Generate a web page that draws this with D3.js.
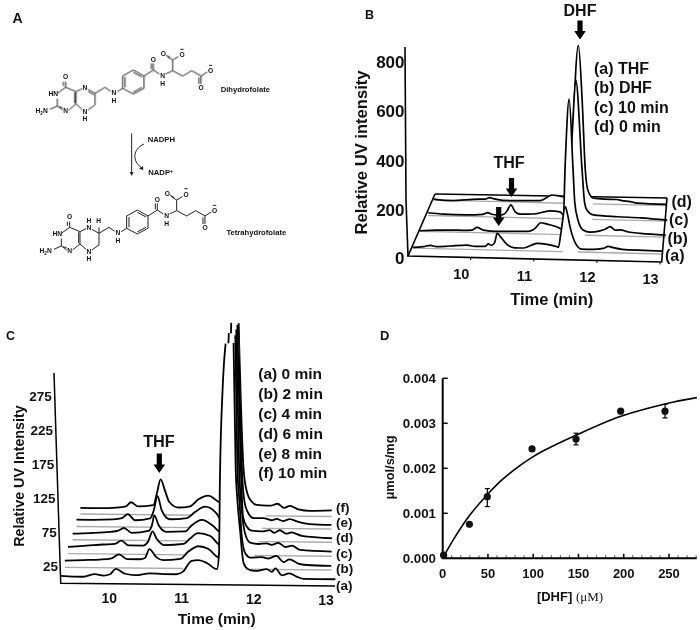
<!DOCTYPE html>
<html>
<head>
<meta charset="utf-8">
<script src="https://cdn.jsdelivr.net/npm/d3@7/dist/d3.min.js"></script>
<style>
html,body{margin:0;padding:0;background:#fff}
svg{display:block;filter:blur(0.3px)}
text{font-family:"Liberation Sans",Arial,sans-serif;font-weight:bold;fill:#111}
</style>
</head>
<body>
<svg id="fig" width="700" height="630"></svg>
<script>
// ---------- Panel B data: [time, relative UV] ----------
const bTicksX = [10, 11, 12, 13];
const bTicksY = [0, 200, 400, 600, 800];
const bNames = ["(a)", "(b)", "(c)", "(d)"];
const bLegend = ["(a) THF", "(b) DHF", "(c) 10 min", "(d) 0 min"];
const bA = [[9.0,3],[9.17,7],[9.28,13],[9.38,8],[9.59,12],[9.86,17],[9.99,13],[10.15,14],[10.2,24],[10.25,19],[10.3,30],[10.34,68],[10.39,55],[10.49,25],[10.62,11],[10.76,11],[10.89,24],[10.97,31],[11.13,28],[11.29,19],[11.31,17],[11.35,75],[11.42,182],[11.45,157],[11.5,96],[11.58,36],[11.68,12],[11.86,12],[12.02,17],[12.1,26],[12.18,21],[12.32,15],[12.66,13],[12.96,12]];
const bB = [[9.0,2],[9.27,6],[9.53,8],[9.69,8],[9.83,10],[9.91,21],[10.01,11],[10.22,7],[10.49,9],[10.72,10],[10.83,23],[10.92,46],[11.02,41],[11.23,25],[11.27,19],[11.31,302],[11.37,548],[11.43,274],[11.46,129],[11.51,61],[11.59,21],[11.7,13],[11.86,19],[11.94,26],[12.02,37],[12.1,23],[12.18,25],[12.31,17],[12.5,13],[12.9,8]];
const bC = [[9.04,11],[9.28,7],[9.65,6],[9.91,10],[9.98,17],[10.05,11],[10.18,8],[10.26,16],[10.3,30],[10.35,51],[10.42,23],[10.5,14],[10.71,16],[10.97,30],[11.13,27],[11.19,15],[11.32,329],[11.38,561],[11.48,198],[11.52,66],[11.56,35],[11.66,18],[12.04,13],[12.41,11],[12.83,4]];
const bD = [[9.01,7],[9.04,3],[9.33,0],[9.64,7],[9.83,9],[9.9,15],[9.99,10],[10.23,5],[10.57,7],[10.7,8],[10.79,18],[10.89,32],[11.02,28],[11.08,26],[11.15,13],[11.31,639],[11.37,419],[11.42,136],[11.46,56],[11.55,23],[11.73,20],[11.92,20],[12.0,16],[12.13,13],[12.24,7],[12.71,5]];
const bGaps = [[11.38,11.62],[11.27,11.62],[11.18,11.64],[11.07,11.54]];

// ---------- Panel C data: [time, relative UV]; null marks the clipped peak top ----------
const cTicksX = [10, 11, 12, 13];
const cTicksY = [25, 75, 125, 175, 225, 275];
const cNames = ["(a)", "(b)", "(c)", "(d)", "(e)", "(f)"];
const cLegend = ["(a) 0 min", "(b) 2 min", "(c) 4 min", "(d) 6 min", "(e) 8 min", "(f) 10 min"];
const cA = [[9.33,11],[9.64,10],[9.8,14],[9.92,12],[10.01,14],[10.09,22],[10.22,15],[10.36,13],[10.56,16],[10.75,15],[10.93,15],[11.02,19],[11.14,35],[11.23,36],[11.35,32],[11.49,23],[11.52,47],[11.53,144],[11.57,291],[11.61,355],[11.66,null],[11.72,356],[11.75,169],[11.77,130],[11.81,81],[11.86,32],[11.93,23],[12.02,21],[12.18,24],[12.25,20],[12.3,25],[12.39,15],[12.49,18],[12.6,13],[12.69,10],[13.13,10]];
const cB = [[9.33,10],[9.59,11],[9.82,12],[9.98,14],[10.08,20],[10.19,13],[10.37,13],[10.44,15],[10.5,28],[10.6,16],[10.69,12],[10.93,14],[11.04,25],[11.18,33],[11.32,29],[11.46,17],[11.51,24],[11.53,131],[11.58,278],[11.6,347],[11.65,null],[11.69,344],[11.72,146],[11.75,97],[11.78,48],[11.83,23],[11.9,17],[12.06,18],[12.15,16],[12.26,20],[12.36,11],[12.44,15],[12.56,9],[12.68,7],[13.02,6]];
const cC = [[9.32,10],[9.58,12],[9.81,14],[9.97,15],[10.06,20],[10.16,13],[10.36,13],[10.43,19],[10.49,34],[10.55,23],[10.66,14],[10.92,16],[11.01,24],[11.12,32],[11.29,28],[11.43,15],[11.48,22],[11.52,111],[11.55,228],[11.58,342],[11.62,null],[11.65,332],[11.69,126],[11.72,74],[11.77,33],[11.84,19],[11.96,17],[12.07,18],[12.14,16],[12.23,19],[12.33,13],[12.42,15],[12.53,9],[12.97,7]];
const cD = [[9.33,9],[9.57,10],[9.85,12],[9.96,14],[10.04,18],[10.15,11],[10.38,14],[10.43,23],[10.46,37],[10.52,23],[10.63,13],[10.89,14],[10.98,23],[11.12,31],[11.28,22],[11.37,14],[11.45,20],[11.5,105],[11.52,208],[11.54,267],[11.58,null],[11.61,318],[11.66,105],[11.69,36],[11.74,22],[11.81,16],[11.95,15],[12.06,17],[12.12,13],[12.2,17],[12.29,12],[12.36,14],[12.5,9],[12.92,6]];
const cE = [[9.33,10],[9.56,10],[9.84,11],[9.96,13],[10.04,19],[10.14,10],[10.35,13],[10.4,25],[10.45,46],[10.51,25],[10.62,12],[10.86,14],[10.97,23],[11.11,31],[11.27,21],[11.32,14],[11.43,19],[11.47,85],[11.49,188],[11.51,247],[11.54,null],[11.57,299],[11.62,85],[11.66,36],[11.71,22],[11.78,15],[11.92,15],[12.03,12],[12.1,14],[12.19,11],[12.28,14],[12.4,10],[12.56,7],[12.86,6]];
const cF = [[9.33,9],[9.6,9],[9.83,10],[9.96,12],[10.03,18],[10.13,12],[10.34,14],[10.39,32],[10.44,52],[10.5,36],[10.56,19],[10.69,11],[10.85,13],[10.96,23],[11.1,29],[11.24,20],[11.33,15],[11.4,67],[11.44,170],[11.47,229],[11.49,null],[11.52,283],[11.59,67],[11.64,33],[11.7,21],[11.77,16],[11.96,15],[12.06,18],[12.15,12],[12.23,15],[12.35,10],[12.51,8],[12.81,9]];
const cGap = [10.97, 11.9];

// ---------- Panel D data ----------
const dConc = [1, 29.5, 49.3, 98.7, 147.3, 196.6, 245.6];
const dRate = [0.00007, 0.000755, 0.00137, 0.00243, 0.00265, 0.00327, 0.00327];
const dErrLo = [null, null, 0.00115, null, 0.00252, null, 0.00312];
const dErrHi = [null, null, 0.00155, null, 0.00278, null, 0.00342];
const dFitX = [0, 12, 30, 50, 67, 100, 148, 196, 245.6, 280.7];
const dFitY = [0, 0.00042, 0.00096, 0.00143, 0.00177, 0.00226, 0.00274, 0.00315, 0.00343, 0.00357];
const dTicksX = [0, 50, 100, 150, 200, 250];
const dTicksY = [0, 0.001, 0.002, 0.003, 0.004];

// ---------- Panel A structure (drawn in a 3x working space) ----------
const aRingSkeleton = [
  [197,245,197,262],[197,262,172,280],[172,296,172,318],[172,318,188,330],[206,330,228,312],[228,312,228,275],[228,275,197,262],[150,328,172,318],
  [228,275,246,266],[228,312,246,328],[264,330,285,315],[285,315,285,280],
  [285,280,315,262],[315,262,332,274],
  [352,275,368,265],[368,265,368,228],[368,228,400,210],[400,210,432,228],[432,228,432,265],[432,265,400,282],[400,282,368,265],
  [432,228,460,210],[460,210,460,190],[460,210,478,222],[497,222,518,212],[518,212,518,180],[518,180,502,170],[518,180,535,170],
  [518,212,548,228],[548,228,575,212],[575,212,603,228],[603,228,622,216],[603,228,603,252]];
const aDoubleBonds = [[190,245,190,258],[224,310,224,277],[375,262,375,231],[400,217,426,231],[426,262,400,276],[454,190,454,208],[511,173,498,165],[597,232,597,252],[178,320,188,324]];
const aDihydroOnly = [[264,268,285,280],[264,274,281,284]];
const aDihydroLabels = [["O",197,237],["HN",160,287],["N",197,340],["N",255,271],["N",255,341],["H",255,364],["N",342,285],["H",342,308],["O",460,185],["N",488,234],["H",488,257],["O",490,169],["O",546,171],["O",632,219],["O",603,269]];
const aTetraExtra = [[264,268,285,280],[285,280,285,262]];
const aTetraLabels = [["O",209,657],["HN",172,707],["N",209,760],["N",267,691],["H",267,668],["H",296,670],["N",267,761],["H",267,784],["N",354,705],["H",354,728],["O",472,605],["N",500,654],["H",500,677],["O",502,589],["O",558,591],["O",644,639],["O",615,689]];

const svg = d3.select("#fig");
const tilted = (g, txt, x, y, size, anchor) =>
  g.append("text").attr("x", x).attr("y", y).attr("font-size", size).attr("text-anchor", anchor || "start").text(txt);
const rotText = (g, txt, x, y, size) =>
  g.append("text").attr("transform", `translate(${x},${y}) rotate(-90)`).attr("font-size", size).attr("text-anchor", "middle").text(txt);
function arrow(g, x, y0, y1) {
  const h = 8.5, sw = 2.6, hw = 5.8;
  g.append("path").attr("fill", "#000").attr("d",
    d3.line()([[x-sw,y0],[x+sw,y0],[x+sw,y1-h],[x+hw,y1-h],[x,y1],[x-hw,y1-h],[x-sw,y1-h]]) + "Z");
}

// ---------- Panel labels ----------
tilted(svg, "A", 12.5, 23, 14);
tilted(svg, "B", 365, 19, 12.5);
tilted(svg, "C", 6, 339.5, 12.5);
tilted(svg, "D", 380, 340, 13);

// ---------- Panel A ----------
const gA = svg.append("g").attr("transform", "scale(0.3333)").style("filter", "blur(1px)");
const bonds = (list, dx, dy) => gA.append("g").attr("transform", `translate(${dx},${dy})`)
  .selectAll("line").data(list).join("line")
  .attr("x1", d => d[0]).attr("y1", d => d[1]).attr("x2", d => d[2]).attr("y2", d => d[3])
  .attr("stroke", "#222").attr("stroke-width", 3);
const atoms = list => gA.append("g").selectAll("text").data(list).join("text")
  .attr("x", d => d[1]).attr("y", d => d[2]).attr("text-anchor", "middle").attr("font-size", 20).text(d => d[0]);
bonds(aRingSkeleton, 0, 0); bonds(aDoubleBonds, 0, 0); bonds(aDihydroOnly, 0, 0);
bonds(aRingSkeleton, 12, 420); bonds(aDoubleBonds, 12, 420); bonds(aTetraExtra, 12, 420);
atoms(aDihydroLabels); atoms(aTetraLabels);
[[546,148],[632,196],[558,566],[644,616]].forEach(p =>
  gA.append("line").attr("x1", p[0]-5).attr("x2", p[0]+5).attr("y1", p[1]).attr("y2", p[1]).attr("stroke", "#222").attr("stroke-width", 3));
const h2n = (x, y) => { const t = gA.append("text").attr("x", x).attr("y", y).attr("text-anchor", "middle").attr("font-size", 20);
  t.append("tspan").text("H"); t.append("tspan").attr("font-size", 14).attr("dy", 5).text("2"); t.append("tspan").attr("dy", -5).text("N"); };
h2n(125, 340); h2n(137, 760);
const aLab = (s, x, y, anchor) => gA.append("text").attr("x", x).attr("y", y).attr("font-size", 23).attr("text-anchor", anchor).text(s);
aLab("Dihydrofolate", 736, 276, "middle");
aLab("Tetrahydrofolate", 769, 706, "middle");
aLab("NADPH", 484, 426, "middle");
const nadp = aLab("NADP", 445, 526, "start");
nadp.append("tspan").attr("font-size", 16).attr("dy", -8).text("+");
gA.append("line").attr("x1", 395).attr("x2", 395).attr("y1", 400).attr("y2", 522).attr("stroke", "#222").attr("stroke-width", 3);
gA.append("path").attr("d", "M389,516 L401,516 L395,528 Z").attr("fill", "#222");
gA.append("path").attr("d", "M432,432 C398,448 396,482 424,503").attr("fill", "none").attr("stroke", "#222").attr("stroke-width", 3);
gA.append("path").attr("d", "M417,506 L429,498 L430,510 Z").attr("fill", "#222");

// ---------- Stacked chromatogram helper ----------
function stacked(g, cfg) {
  const order = d3.range(cfg.series.length).reverse();
  order.forEach(k => {
    const data = cfg.series[k];
    const solid = data.filter(d => d[1] != null);
    const px = d => cfg.x(d[0]) + cfg.dx[k];
    const base = d => cfg.y(0) + cfg.dy[k] + cfg.tilt * (px(d) - cfg.x0);
    const py = d => cfg.y(d[1]) + cfg.dy[k] + cfg.tilt * (px(d) - cfg.x0);
    g.append("path").attr("fill", "#fff").attr("d",
      d3.area().x(px).y0(base).y1(py).curve(d3.curveMonotoneX)(solid));
    if (cfg.gaps[k]) {
      const t0 = data[0][0], t1 = data[data.length - 1][0];
      [[t0, cfg.gaps[k][0]], [cfg.gaps[k][1], t1]].forEach(r => {
        g.append("line")
          .attr("x1", px([r[0]])).attr("x2", px([r[1]]))
          .attr("y1", base([r[0]])).attr("y2", base([r[1]]))
          .attr("stroke", "#aaa").attr("stroke-width", 1.4);
      });
    }
    g.append("path").attr("fill", "none").attr("stroke", "#000").attr("stroke-width", cfg.sw)
      .attr("stroke-linejoin", "round")
      .attr("d", d3.line().defined(d => d[1] != null).x(px).y(py).curve(d3.curveMonotoneX)(data));
  });
}

// ---------- Panel B ----------
const gB = svg.append("g");
const xB = d3.scaleLinear().domain([10, 13]).range([470.7, 660]);
const yB = d3.scaleLinear().domain([0, 800]).range([256, 58]);
gB.append("line").attr("x1", 435).attr("y1", 194).attr("x2", 667).attr("y2", 198).attr("stroke", "#000").attr("stroke-width", 1.6);
stacked(gB, { series: [bA, bB, bC, bD], x: xB, y: yB, dx: [5, 12, 18, 25], dy: [-8, -25, -41, -56.5], tilt: 0.0237, x0: 408, gaps: bGaps, sw: 1.7 });
gB.append("path").attr("fill", "none").attr("stroke", "#000").attr("stroke-width", 1.6)
  .attr("d", d3.line()([[435, 194], [408, 256], [661.7, 262], [667, 198]]));
gB.append("path").attr("fill", "none").attr("stroke", "#000").attr("stroke-width", 1.6)
  .attr("d", d3.line()([[405, 47], [406, 200], [408, 256]]));
bTicksX.forEach(t => {
  const X = xB(t), Y = 256 + 0.0237 * (X - 408);
  gB.append("line").attr("x1", X).attr("x2", X).attr("y1", Y).attr("y2", Y + 2.5).attr("stroke", "#000").attr("stroke-width", 1);
  tilted(gB, t, X - 9.5, Y + 22, 14.5, "middle");
});
bTicksY.forEach(v => tilted(gB, v, 404.5, yB(v) + 9.5 + (v ? 0 : -2), 17, "end"));
rotText(gB, "Relative UV intensity", 367, 152.5, 16.6);
tilted(gB, "Time (min)", 551.7, 305, 16.5, "middle");
tilted(gB, "DHF", 580, 16, 16, "middle");
tilted(gB, "THF", 509, 168, 16, "middle");
arrow(gB, 580, 20.5, 39.5);
arrow(gB, 511.5, 178, 197);
arrow(gB, 498.7, 207, 226);
const bLegY = [74, 93, 113, 132];
bLegend.forEach((s, i) => tilted(gB, s, 594, bLegY[i], 16));
const bEnd = [[665, 260.5], [667.5, 243.5], [669, 225], [671.5, 207]];
bNames.forEach((s, i) => tilted(gB, s, bEnd[i][0], bEnd[i][1], 16));

// ---------- Panel C ----------
const gC = svg.append("g");
const xC = d3.scaleLinear().domain([10, 13]).range([109.3, 326]);
const yC = d3.scaleLinear().domain([0, 275]).range([583.3, 396.3]);
stacked(gC, { series: [cA, cB, cC, cD, cE, cF], x: xC, y: yC, dx: [0, 3.9, 7.8, 11.7, 15.6, 19.5], dy: [0, -16, -29.7, -43.7, -57, -69.5], tilt: 0.01, x0: 60.7,
  gaps: [null, cGap, cGap, cGap, cGap, cGap], sw: 1.8 });
gC.append("path").attr("fill", "none").attr("stroke", "#000").attr("stroke-width", 1.5)
  .attr("d", d3.line()([[54, 373], [60.7, 583.3], [335, 586]]));
cTicksX.forEach(t => tilted(gC, t, xC(t), 602.7 + (t - 10) * 0.7, 14, "middle"));
const cLabEnd = d3.scaleLinear().domain([25, 275]).range([58, 51.7]);
cTicksY.forEach(v => tilted(gC, v, cLabEnd(v), yC(v) + 5, 13.5, "end"));
rotText(gC, "Relative UV Intensity", 24, 476, 14.3);
tilted(gC, "Time (min)", 216.7, 624, 15.5, "middle");
tilted(gC, "THF", 159, 447.3, 16.3, "middle");
arrow(gC, 159.3, 453.5, 473);
const cLegY = [379.3, 399.3, 419.3, 439, 459, 477.5];
cLegend.forEach((s, i) => tilted(gC, s, 258.3, cLegY[i], 15.5));
const cEndY = [590, 573, 558, 542, 527, 511.5];
cNames.forEach((s, i) => tilted(gC, s, 336, cEndY[i], 13.5));

// ---------- Panel D ----------
const gD = svg.append("g");
const xD = d3.scaleLinear().domain([0, 250]).range([442.7, 669]);
const yD = d3.scaleLinear().domain([0, 0.004]).range([558.3, 378.3]);
const axisColor = "#000";
gD.append("path").attr("fill", "none").attr("stroke", axisColor).attr("stroke-width", 2)
  .attr("d", d3.line()([[xD(0), yD(0.004)], [xD(0), yD(0)], [696.7, yD(0)]]));
d3.range(0, 281, 10).forEach(v => {
  const major = v % 50 === 0;
  gD.append("line").attr("x1", xD(v)).attr("x2", xD(v)).attr("y1", yD(0)).attr("y2", yD(0) - (major ? 4.5 : 3))
    .attr("stroke", axisColor).attr("stroke-width", major ? 1.5 : 0.7);
});
dTicksY.forEach(v => gD.append("line").attr("x1", xD(0)).attr("x2", xD(0) + 5).attr("y1", yD(v)).attr("y2", yD(v)).attr("stroke", axisColor).attr("stroke-width", 1.5));
dTicksX.forEach(v => tilted(gD, v, xD(v), 577.5, 13, "middle"));
dTicksY.forEach(v => tilted(gD, v.toFixed(3), 436, yD(v) + 4.7, 13.3, "end"));
rotText(gD, "μmol/s/mg", 394, 467.5, 12.8);
const dXLab = gD.append("text").attr("x", 570).attr("y", 600.7).attr("font-size", 13).attr("text-anchor", "middle");
dXLab.append("tspan").text("[DHF] ");
dXLab.append("tspan").attr("font-family", "'Liberation Serif',serif").attr("font-weight", "normal").text("(μM)");
gD.append("path").attr("fill", "none").attr("stroke", "#000").attr("stroke-width", 1.6)
  .attr("d", d3.line().x(d => xD(d[0])).y(d => yD(d[1])).curve(d3.curveCatmullRom)(d3.zip(dFitX, dFitY)));
const dPts = dConc.map((c, i) => ({ c, r: dRate[i], lo: dErrLo[i], hi: dErrHi[i] }));
dPts.filter(d => d.lo != null).forEach(d => {
  gD.append("line").attr("x1", xD(d.c)).attr("x2", xD(d.c)).attr("y1", yD(d.lo)).attr("y2", yD(d.hi)).attr("stroke", "#000").attr("stroke-width", 1.2);
  [d.lo, d.hi].forEach(v => gD.append("line").attr("x1", xD(d.c) - 2.5).attr("x2", xD(d.c) + 2.5).attr("y1", yD(v)).attr("y2", yD(v)).attr("stroke", "#000").attr("stroke-width", 1.2));
});
gD.selectAll("circle").data(dPts).join("circle")
  .attr("cx", d => xD(d.c)).attr("cy", d => yD(d.r)).attr("r", 3.6).attr("fill", "#111");
</script>
</body>
</html>
